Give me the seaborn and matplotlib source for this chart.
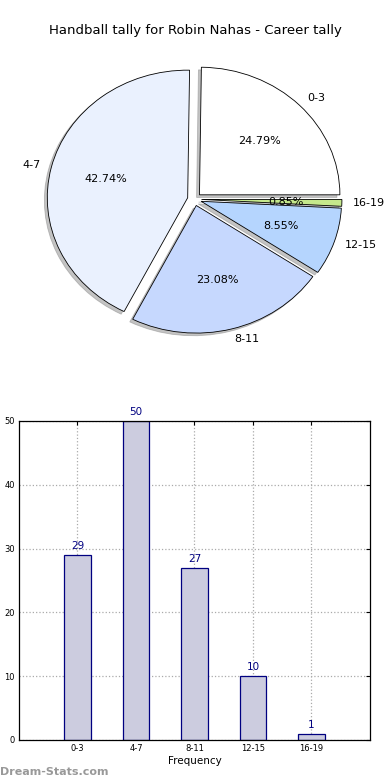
import matplotlib
matplotlib.use('Agg')
import matplotlib.pyplot as plt
import seaborn as sns
import pandas as pd

# Data
categories = ['0-3', '4-7', '8-11', '12-15', '16-19']
counts = [29, 50, 27, 10, 1]
slice_colors = ['#ffffff', '#eaf1fe', '#c6d8fe', '#b5d5fe', '#c5e88c']
explode = [0.05, 0.05, 0.05, 0.05, 0.05]

df = pd.DataFrame({'range': categories, 'count': counts})

sns.set_style('white')
plt.rcParams['font.family'] = ['DejaVu Sans']
plt.rcParams['text.color'] = 'black'
plt.rcParams['axes.labelcolor'] = 'black'
plt.rcParams['xtick.color'] = 'black'
plt.rcParams['ytick.color'] = 'black'

fig = plt.figure(figsize=(3.9, 7.8), dpi=100)

# Pie chart (not equal aspect, like the original)
fig.text(0.5, 0.9615, 'Handball tally for Robin Nahas - Career tally',
         ha='center', va='center', fontsize=9.5)
ax1 = fig.add_axes([0.0487, 0.54, 0.9, 0.409])
wedges, texts, autotexts = ax1.pie(df['count'], labels=df['range'], colors=slice_colors,
                                   explode=explode, autopct='%1.2f%%',
                                   shadow={'ox': -0.015, 'oy': -0.015, 'color': '#888888'},
                                   startangle=0, counterclock=True, labeldistance=1.08,
                                   wedgeprops={'edgecolor': 'black', 'linewidth': 0.6},
                                   textprops={'fontsize': 8})
ax1.set_aspect('auto')
ax1.set_xlim(-1.25, 1.25)
ax1.set_ylim(-1.25, 1.25)

# Bar chart
ax2 = fig.add_axes([0.0487, 0.0513, 0.9, 0.409])
sns.barplot(data=df, x='range', y='count', ax=ax2, width=0.45, color='#ccccdf',
            saturation=1, edgecolor='#000080', linewidth=0.9)
for i, v in enumerate(counts):
    ax2.text(i, v + 0.6, str(v), ha='center', va='bottom', color='#000080', fontsize=7.5)
ax2.set_xlim(-1, 5)
ax2.set_ylim(0, 50)
ax2.set_yticks(range(0, 51, 10))
ax2.set_xlabel('Frequency', fontsize=7.5, labelpad=2)
ax2.set_ylabel('')
ax2.grid(True, linestyle=':', color='#aaaaaa', linewidth=0.9)
ax2.set_axisbelow(True)
ax2.tick_params(labelsize=6, direction='in', top=True, right=True, length=3, pad=3)
for s in ax2.spines.values():
    s.set_color('black')
    s.set_linewidth(0.9)

fig.text(0.0, 0.004, 'Dream-Stats.com', ha='left', va='bottom', fontsize=8,
         color='#999999', fontweight='bold')

plt.savefig('out.png', dpi=100)
